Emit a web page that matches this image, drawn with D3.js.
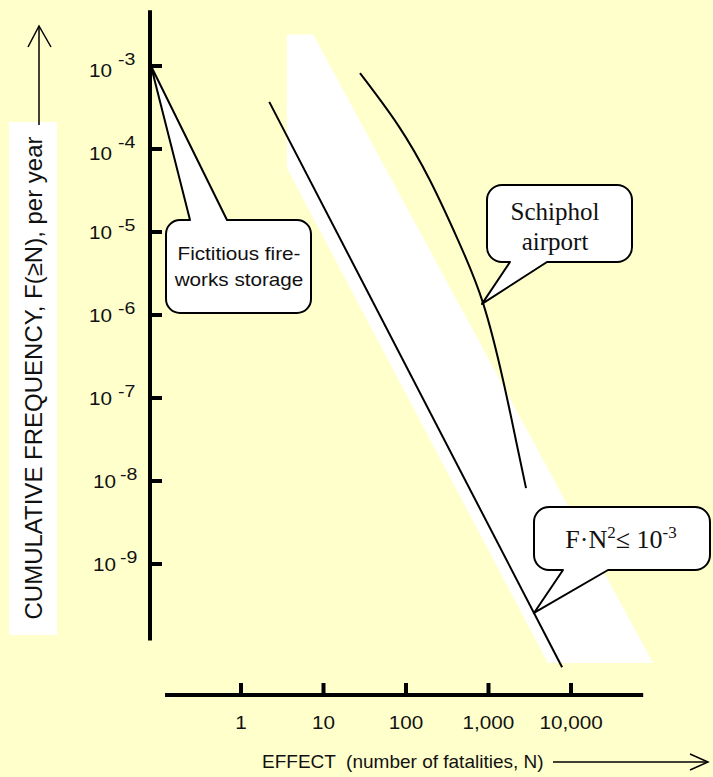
<!DOCTYPE html>
<html>
<head>
<meta charset="utf-8">
<script src="https://cdn.jsdelivr.net/npm/d3@7"></script>
<style>
  body { margin: 0; background: #FFFFCC; }
  svg { display: block; }
</style>
</head>
<body>
<svg id="chart" width="713" height="777"></svg>
<script>
// Axis ticks
const xTicks = [1, 10, 100, 1000, 10000];
const xTickLabels = ["1", "10", "100", "1,000", "10,000"];
const yTicks = [1e-3, 1e-4, 1e-5, 1e-6, 1e-7, 1e-8, 1e-9];
const yExponents = ["-3", "-4", "-5", "-6", "-7", "-8", "-9"];
const xAxisExtent = [0.12, 75000];
const yAxisExtent = [4.7e-3, 1.2e-10];

// F·N² ≤ 10^-3 criterion line (as drawn)
const criterionN = [2.2, 7800];
const criterionF = [3.7e-4, 5.7e-11];

// white band behind the lines
const bandN = [3.6, 7.5, 98600, 5260, 3.6];
const bandF = [2.4e-3, 2.4e-3, 6.4e-11, 6.4e-11, 5.9e-5];

// Schiphol airport curve
const schipholN = [27.7, 80, 195, 427, 857, 1500, 2150, 2850];
const schipholF = [8.2e-4, 1.94e-4, 4.2e-5, 8.0e-6, 1.4e-6, 1.65e-7, 3.1e-8, 8.2e-9];

// callout anchor points (N, F)
const fireworksTip = [null, 1e-3];
const schipholTip = [834, 1.36e-6];
const criterionTip = [3560, 2.57e-10];

const svg = d3.select("#chart");
const sans = "'Liberation Sans', Arial, sans-serif";
const serif = "'Liberation Serif', 'Times New Roman', serif";

const x = d3.scaleLog().domain([1, 10000]).range([241, 571]);
const y = d3.scaleLog().domain([1e-3, 1e-9]).range([66, 564]);
const axisX = 150, axisY = 695;

svg.append("rect").attr("width", 713).attr("height", 777).attr("fill", "#FFFFCC");

// white band
svg.append("path")
    .attr("d", d3.line()(bandN.map((n, i) => [x(n), y(bandF[i])])) + "Z")
    .attr("fill", "#fff");

// stretched text helper (original text is a bit wider than Arial)
function label(g, px, py, txt, size, anchor, font, sx) {
    return g.append("text")
        .attr("transform", `translate(${px},${py}) scale(${sx || 1.15},1)`)
        .attr("text-anchor", anchor || "middle")
        .attr("font-family", font || sans)
        .attr("font-size", size)
        .attr("fill", "#111")
        .text(txt);
}

// y title with white box and arrow
svg.append("rect").attr("x", 9).attr("y", 122).attr("width", 48).attr("height", 513).attr("fill", "#fff");
svg.append("text")
    .attr("transform", "translate(42,378) rotate(-90)")
    .attr("text-anchor", "middle")
    .attr("font-family", sans)
    .attr("font-size", 24)
    .attr("fill", "#111")
    .text("CUMULATIVE FREQUENCY, F(\u2265N), per year");
svg.append("line").attr("x1", 39).attr("y1", 125).attr("x2", 39).attr("y2", 26)
    .attr("stroke", "#000").attr("stroke-width", 1.5);
svg.append("path").attr("d", "M28,47L39,26L51,47")
    .attr("fill", "none").attr("stroke", "#000").attr("stroke-width", 1.5);

// y axis
svg.append("line")
    .attr("x1", axisX).attr("x2", axisX)
    .attr("y1", y(yAxisExtent[0])).attr("y2", y(yAxisExtent[1]))
    .attr("stroke", "#000").attr("stroke-width", 4);
svg.selectAll(".ytick").data(yTicks).enter().append("line")
    .attr("x1", axisX).attr("x2", axisX + 12)
    .attr("y1", d => y(d)).attr("y2", d => y(d))
    .attr("stroke", "#000").attr("stroke-width", 4);
yTicks.forEach((t, i) => {
    const shift = i >= 5 ? 4 : 0; // last two labels sit closer to the axis
    label(svg, 112 + shift, y(t) + (i < 2 ? 11 : 7), "10", 18, "end");
    label(svg, 118 + shift / 2, y(t) - 1, yExponents[i], 17, "start");
});

// x axis
svg.append("line")
    .attr("x1", x(xAxisExtent[0])).attr("x2", x(xAxisExtent[1]))
    .attr("y1", axisY).attr("y2", axisY)
    .attr("stroke", "#000").attr("stroke-width", 4);
svg.selectAll(".xtick").data(xTicks).enter().append("line")
    .attr("x1", d => x(d)).attr("x2", d => x(d))
    .attr("y1", axisY).attr("y2", axisY - 12)
    .attr("stroke", "#000").attr("stroke-width", 4);
xTicks.forEach((t, i) => label(svg, x(t), 729, xTickLabels[i], 18));

label(svg, 262, 768, "EFFECT  (number of fatalities, N)", 19, "start", sans, 1).attr("xml:space", "preserve");
svg.append("line").attr("x1", 553).attr("y1", 762).attr("x2", 708).attr("y2", 762)
    .attr("stroke", "#000").attr("stroke-width", 1.5);
svg.append("path").attr("d", "M690,754L708,762L690,770")
    .attr("fill", "none").attr("stroke", "#000").attr("stroke-width", 1.5);

// criterion line
svg.append("path")
    .attr("d", d3.line()(criterionN.map((n, i) => [x(n), y(criterionF[i])])))
    .attr("fill", "none").attr("stroke", "#000").attr("stroke-width", 2);

// Schiphol curve
svg.append("path")
    .attr("d", d3.line().curve(d3.curveNatural)(schipholN.map((n, i) => [x(n), y(schipholF[i])])))
    .attr("fill", "none").attr("stroke", "#000").attr("stroke-width", 2);

// callout: rounded box with a pointed tail on top or bottom edge
function callout(x0, y0, x1, y1, r, side, b1, b2, tip) {
    const [tx, ty] = tip;
    let d = `M${x0 + r},${y0}`;
    if (side === "top") d += `L${b1},${y0}L${tx},${ty}L${b2},${y0}`;
    d += `L${x1 - r},${y0}A${r},${r} 0 0 1 ${x1},${y0 + r}`;
    d += `L${x1},${y1 - r}A${r},${r} 0 0 1 ${x1 - r},${y1}`;
    if (side === "bottom") d += `L${b2},${y1}L${tx},${ty}L${b1},${y1}`;
    d += `L${x0 + r},${y1}A${r},${r} 0 0 1 ${x0},${y1 - r}`;
    d += `L${x0},${y0 + r}A${r},${r} 0 0 1 ${x0 + r},${y0}Z`;
    svg.append("path").attr("d", d)
        .attr("fill", "#fff").attr("stroke", "#000").attr("stroke-width", 2)
        .attr("stroke-linejoin", "round");
}

callout(166, 220, 311, 313, 14, "top", 190, 227, [axisX + 1, y(fireworksTip[1])]);
label(svg, 239, 260, "Fictitious fire-", 18);
label(svg, 239, 286, "works storage", 18);

callout(487, 185, 632, 262, 15, "bottom", 510, 547, [x(schipholTip[0]), y(schipholTip[1])]);
label(svg, 555, 220, "Schiphol", 25, "middle", serif, 1);
label(svg, 555, 250, "airport", 25, "middle", serif, 1);

callout(534, 507, 710, 570, 15, "bottom", 563, 608, [x(criterionTip[0]), y(criterionTip[1])]);
const crit = label(svg, 621, 548, "", 26, "middle", serif, 1);
crit.append("tspan").text("F\u00B7N");
crit.append("tspan").attr("font-size", 17).attr("dy", -10).text("2");
crit.append("tspan").attr("dy", 10).text("\u2264 10");
crit.append("tspan").attr("font-size", 17).attr("dy", -10).text("-3");
</script>
</body>
</html>
